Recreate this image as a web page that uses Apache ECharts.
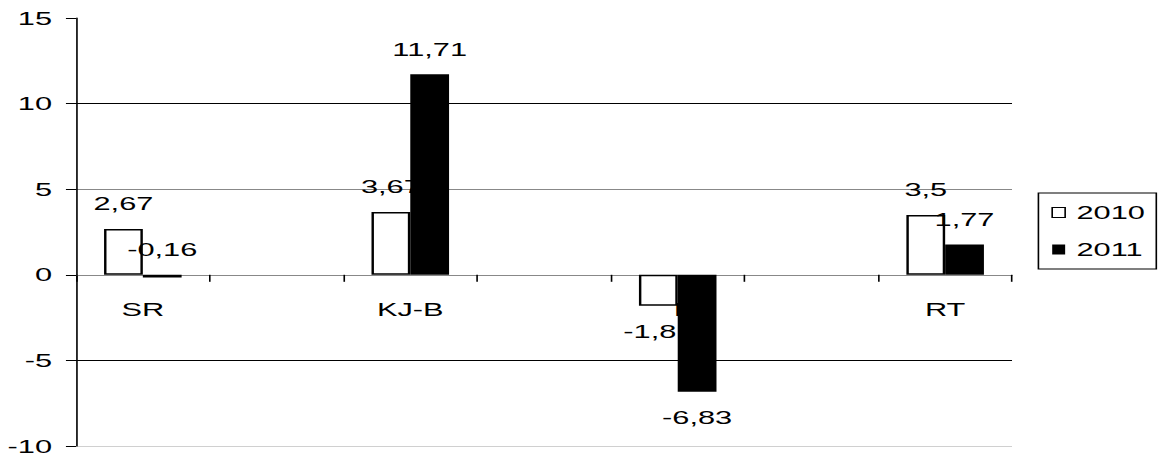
<!DOCTYPE html>
<html>
<head>
<meta charset="utf-8">
<script src="https://cdn.jsdelivr.net/npm/echarts@6/dist/echarts.min.js"></script>
<style>
  html, body { margin: 0; padding: 0; background: #fff; overflow: hidden; }
  #chart { width: 716px; height: 459px; transform: scaleX(1.62); transform-origin: 0 0; }
</style>
</head>
<body>
<div id="chart"></div>
<script>
// Data
const categories = ["SR", "", "KJ-B", "", "I", "", "RT"];
const values2010 = [2.67, null, 3.67, null, -1.81, null, 3.5];
const values2011 = [-0.16, null, 11.71, null, -6.83, null, 1.77];
const seriesNames = ["2010", "2011"];
const yTicks = { min: -10, max: 15, interval: 5 };

const FONT = "Liberation Sans";
const FS = 19;
const GRID_TOP = 18, GRID_BOTTOM = 13;
const PLOT_H = 459 - GRID_TOP - GRID_BOTTOM;
// shift category axis from the bottom of the grid up to the value 0
const zeroOffset = -PLOT_H * (0 - yTicks.min) / (yTicks.max - yTicks.min);

function fmt(v) { return String(v).replace('.', ','); }
function toItems(arr, topForSmallNeg) {
  return arr.map(v => v === null ? null : {
    value: v,
    label: { position: (v >= 0 || (topForSmallNeg && v > -0.5)) ? 'top' : 'bottom' }
  });
}

const chart = echarts.init(document.getElementById('chart'), null, { renderer: 'svg' });
chart.setOption({
  animation: false,
  backgroundColor: '#fff',
  textStyle: { fontFamily: FONT },
  grid: { left: 46.9, right: 91.3, top: GRID_TOP, bottom: GRID_BOTTOM, containLabel: false, outerBoundsMode: 'none' },
  legend: {
    orient: 'vertical',
    left: 641, top: 193,
    padding: [10, 7, 10, 8],
    itemGap: 18,
    itemWidth: 8, itemHeight: 10,
    borderColor: '#000', borderWidth: 1,
    textStyle: { fontFamily: FONT, fontSize: FS, color: '#000', padding: [0, 0, 0, 2] },
    data: [
      { name: seriesNames[0], icon: 'rect', itemStyle: { color: '#fff', borderColor: '#000', borderWidth: 1 } },
      { name: seriesNames[1], icon: 'rect', itemStyle: { color: '#000' } }
    ]
  },
  xAxis: {
    type: 'category',
    data: categories,
    position: 'bottom',
    offset: zeroOffset,
    boundaryGap: true,
    axisLine: { onZero: false, lineStyle: { color: '#888', width: 1 } },
    axisTick: { show: true, interval: 0, length: 7, lineStyle: { color: '#000' } },
    axisLabel: { interval: 0, margin: 25, fontFamily: FONT, fontSize: FS, color: '#000' },
    splitLine: { show: false }
  },
  yAxis: {
    type: 'value',
    min: yTicks.min, max: yTicks.max, interval: yTicks.interval,
    axisLine: { show: true, lineStyle: { color: '#000', width: 1 } },
    axisTick: { show: true, length: 6.2, lineStyle: { color: '#000' } },
    axisLabel: { margin: 14.8, fontFamily: FONT, fontSize: FS, color: '#000' },
    splitLine: { show: true, lineStyle: { width: 1, color: ['#d0d0d0', '#000', '#888', '#888', '#000', 'rgba(0,0,0,0)'] } }
  },
  series: [
    {
      name: seriesNames[0], type: 'bar', z: 2,
      data: toItems(values2010, false),
      barGap: '0%', barCategoryGap: '42%',
      itemStyle: { color: '#fff', borderColor: '#000', borderWidth: 1.5 },
      label: { show: true, distance: 16, fontFamily: FONT, fontSize: FS, color: '#000', formatter: p => fmt(p.value) }
    },
    {
      name: seriesNames[1], type: 'bar', z: 3,
      data: toItems(values2011, true),
      barGap: '0%', barCategoryGap: '42%',
      itemStyle: { color: '#000' },
      label: { show: true, distance: 16, fontFamily: FONT, fontSize: FS, color: '#000', formatter: p => fmt(p.value) }
    }
  ]
});
</script>
</body>
</html>
